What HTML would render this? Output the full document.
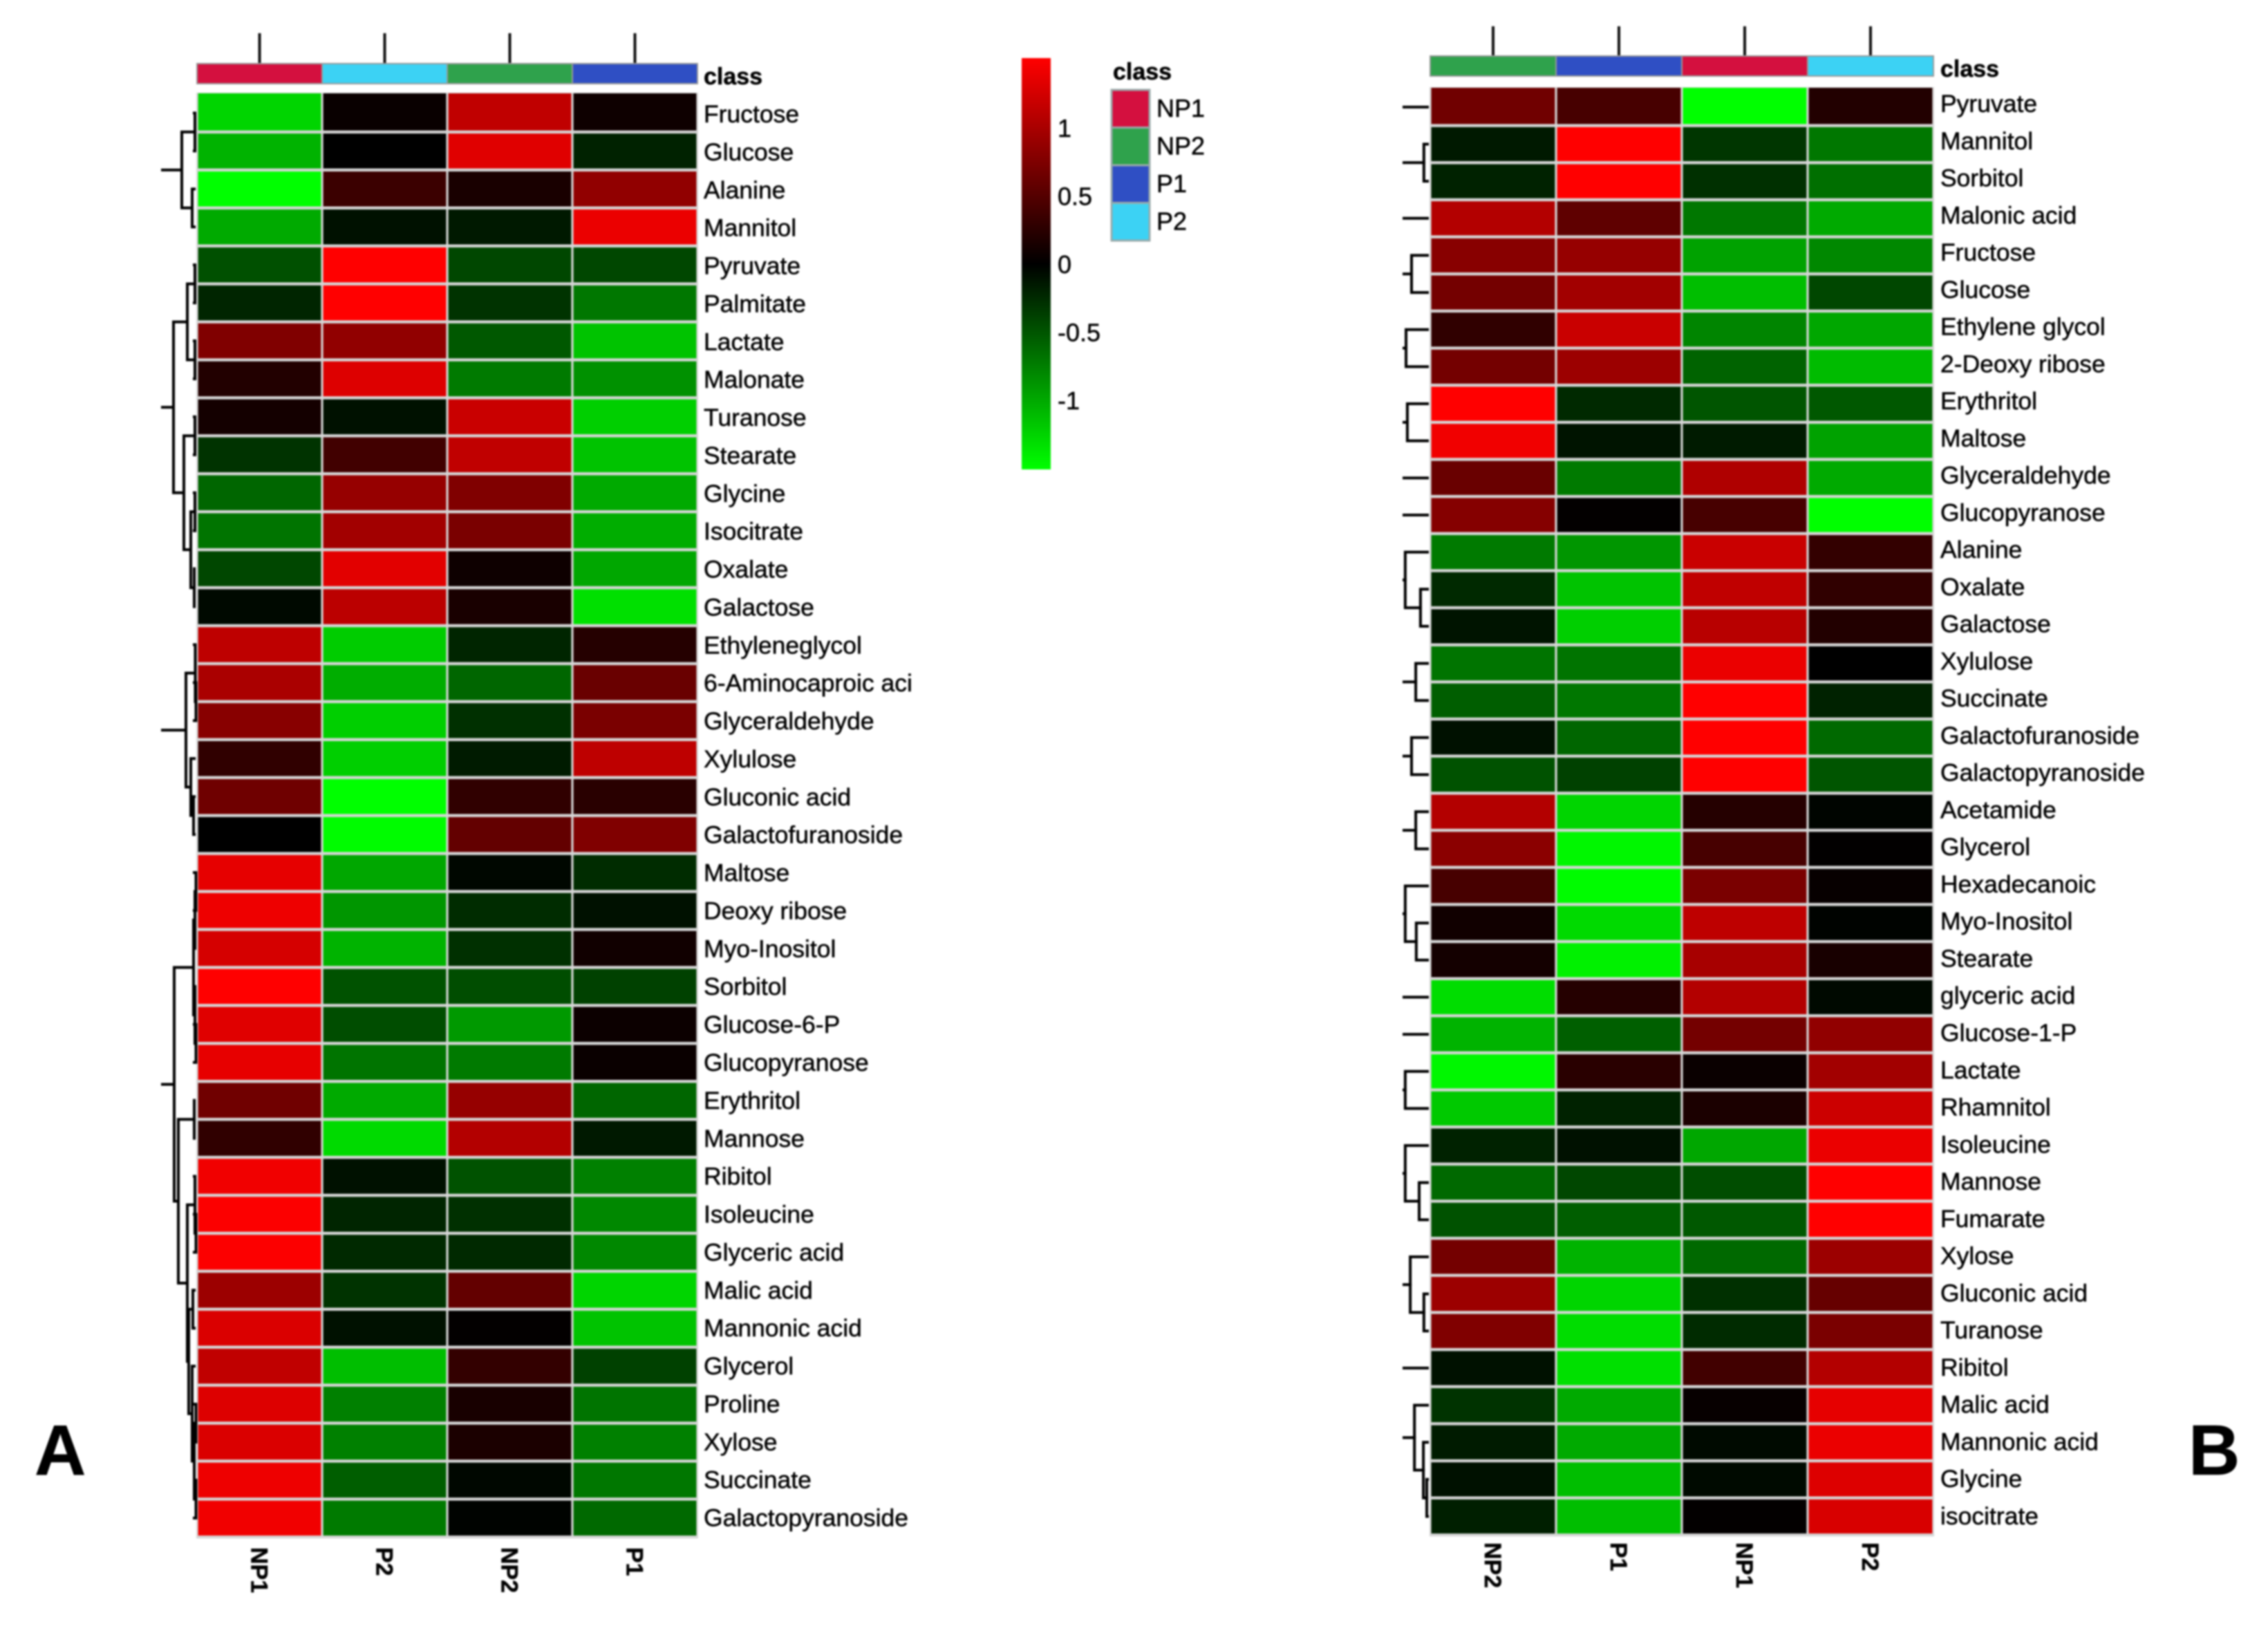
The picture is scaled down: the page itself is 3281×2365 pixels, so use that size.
<!DOCTYPE html>
<html lang="en">
<head>
<meta charset="utf-8">
<title>Metabolite heatmaps</title>
<style>
html,body{margin:0;padding:0;background:#fff;width:3281px;height:2365px;overflow:hidden}
svg{display:block;filter:blur(1.3px)}
text{font-family:"Liberation Sans",sans-serif;fill:#000;stroke:#000;stroke-width:.5px}
</style>
</head>
<body>
<svg id="chart" xmlns="http://www.w3.org/2000/svg" width="3281" height="2365" viewBox="0 0 3281 2365">
<rect width="3281" height="2365" fill="#fff"/>
<text x="50" y="2133" font-size="103" font-weight="700">A</text>
<text x="3166" y="2133" font-size="103" font-weight="700">B</text>
</svg>
<script>
/* ---------- Data: panel A ---------- */
const columnsA = ["NP1","P2","NP2","P1"];
const rowsA = ["Fructose","Glucose","Alanine","Mannitol","Pyruvate","Palmitate","Lactate","Malonate","Turanose","Stearate","Glycine","Isocitrate","Oxalate","Galactose","Ethyleneglycol","6-Aminocaproic aci","Glyceraldehyde","Xylulose","Gluconic acid","Galactofuranoside","Maltose","Deoxy ribose","Myo-Inositol","Sorbitol","Glucose-6-P","Glucopyranose","Erythritol","Mannose","Ribitol","Isoleucine","Glyceric acid","Malic acid","Mannonic acid","Glycerol","Proline","Xylose","Succinate","Galactopyranoside"];
const valuesA = [
[-1.25,0.05,1.13,0.08],[-1.05,0,1.32,-0.2],[-1.5,0.35,0.15,0.85],[-1.0,-0.1,-0.15,1.38],
[-0.47,1.5,-0.42,-0.42],[-0.22,1.5,-0.3,-0.7],[0.75,0.85,-0.52,-1.15],[0.2,1.3,-0.72,-0.85],
[0.12,-0.1,1.18,-1.22],[-0.3,0.38,1.13,-1.15],[-0.6,0.88,0.75,-1.0],[-0.68,0.95,0.72,-1.02],
[-0.42,1.33,0.08,-0.98],[-0.05,1.1,0.15,-1.32],[1.12,-1.2,-0.22,0.22],[1.0,-1.02,-0.6,0.62],
[0.8,-1.22,-0.28,0.72],[0.28,-1.22,-0.16,1.12],[0.65,-1.5,0.28,0.24],[0,-1.48,0.58,0.75],
[1.35,-0.98,-0.04,-0.26],[1.4,-0.88,-0.26,-0.1],[1.25,-1.05,-0.28,0.1],[1.5,-0.48,-0.45,-0.38],
[1.32,-0.45,-0.9,0.07],[1.36,-0.68,-0.72,0.06],[0.66,-1.0,0.88,-0.6],[0.28,-1.28,1.05,-0.15],
[1.42,-0.1,-0.48,-0.75],[1.48,-0.22,-0.28,-0.8],[1.48,-0.24,-0.24,-0.8],[0.92,-0.3,0.58,-1.25],
[1.28,-0.1,0.02,-1.15],[1.13,-1.12,0.3,-0.38],[1.3,-0.75,0.14,-0.68],[1.28,-0.75,0.16,-0.75],
[1.4,-0.55,-0.04,-0.7],[1.42,-0.72,-0.02,-0.62]
];
/* Dendrogram: [merge height, child, child]; plain numbers are row indexes */
const treeA = [
[0.44,[0.06,0,1],[0.14,2,3]],
[0.68,[0.28,[0.06,4,5],[0.06,6,7]],[0.38,[0.06,8,9],[0.18,[0.06,10,11],[0.08,12,13]]]],
[0.32,[0.05,14,[0.03,15,16]],[0.18,17,[0.1,18,19]]],
[0.66,[0.1,[0.06,[0.03,20,21],22],[0.06,23,[0.03,24,25]]],[0.54,[0.08,26,27],[0.28,[0.06,28,[0.03,29,30]],[0.24,[0.12,31,32],[0.14,33,[0.08,[0.03,34,35],[0.03,36,37]]]]]]]
];

/* ---------- Data: panel B ---------- */
const columnsB = ["NP2","P1","NP1","P2"];
const rowsB = ["Pyruvate","Mannitol","Sorbitol","Malonic acid","Fructose","Glucose","Ethylene glycol","2-Deoxy ribose","Erythritol","Maltose","Glyceraldehyde","Glucopyranose","Alanine","Oxalate","Galactose","Xylulose","Succinate","Galactofuranoside","Galactopyranoside","Acetamide","Glycerol","Hexadecanoic","Myo-Inositol","Stearate","glyceric acid","Glucose-1-P","Lactate","Rhamnitol","Isoleucine","Mannose","Fumarate","Xylose","Gluconic acid","Turanose","Ribitol","Malic acid","Mannonic acid","Glycine","isocitrate"];
const valuesB = [
[0.66,0.42,-1.5,0.2],[-0.15,1.5,-0.32,-0.7],[-0.2,1.5,-0.28,-0.65],[1.05,0.56,-0.7,-1.0],
[0.8,0.88,-0.95,-0.8],[0.68,0.95,-1.12,-0.42],[0.28,1.18,-0.78,-0.98],[0.68,0.92,-0.58,-1.1],
[1.5,-0.24,-0.5,-0.52],[1.42,-0.12,-0.16,-0.95],[0.62,-0.72,1.03,-1.0],[0.78,0.02,0.42,-1.5],
[-0.72,-0.88,1.18,0.3],[-0.24,-1.15,1.13,0.28],[-0.12,-1.22,1.08,0.2],[-0.68,-0.68,1.38,0],
[-0.55,-0.7,1.5,-0.2],[-0.1,-0.6,1.5,-0.62],[-0.48,-0.38,1.5,-0.5],[1.05,-1.25,0.22,-0.03],
[0.82,-1.45,0.42,0.01],[0.42,-1.48,0.72,0.04],[0.1,-1.28,1.12,-0.02],[0.12,-1.42,0.98,0.14],
[-1.3,0.22,1.05,-0.05],[-1.05,-0.56,0.68,0.85],[-1.45,0.24,0.06,0.95],[-1.18,-0.2,0.16,1.2],
[-0.2,-0.1,-0.98,1.38],[-0.62,-0.42,-0.45,1.5],[-0.48,-0.55,-0.52,1.5],[0.68,-1.05,-0.62,0.92],
[0.92,-1.25,-0.28,0.6],[0.75,-1.3,-0.25,0.72],[-0.1,-1.32,0.38,1.05],[-0.3,-1.0,0.04,1.35],
[-0.16,-1.0,-0.06,1.38],[-0.1,-1.12,-0.06,1.3],[-0.18,-1.12,0.02,1.27]
];
const treeB = [
0,[0.24,1,2],3,[0.71,4,5],[0.92,6,7],[0.87,8,9],10,11,
[0.95,12,[0.37,13,14]],[0.55,15,16],[0.71,17,18],[0.55,19,20],
[0.95,21,[0.53,22,23]],24,25,[0.95,26,27],[0.95,28,[0.42,29,30]],
[0.76,31,[0.24,32,33]],34,[0.6,35,[0.26,36,[0.13,37,38]]]
];

/* ---------- Data: legend and colour scale ---------- */
const legendClasses = ["NP1","NP2","P1","P2"];
const legendColors = ["#d4103f","#2fa24c","#2f4fc4","#3cd2f4"];
const colorTicks = [1,0.5,0,-0.5,-1];
const colorMax = 1.5;

/* ---------- Helpers ---------- */
const svg = document.getElementById('chart');
const NS = 'http://www.w3.org/2000/svg';
function el(tag, attrs, parent){
  const e = document.createElementNS(NS, tag);
  for (const k in attrs) e.setAttribute(k, attrs[k]);
  (parent || svg).appendChild(e);
  return e;
}
function classColor(name){
  return legendColors[legendClasses.indexOf(name)];
}
function valueColor(v){
  const t = Math.min(1, Math.abs(v) / colorMax);
  const c = Math.round(255 * t);
  return v >= 0 ? 'rgb(' + c + ',0,0)' : 'rgb(0,' + c + ',0)';
}

function drawPanel(p){
  const colW = (p.right - p.left) / p.columns.length;
  const xCol = i => p.left + i * colW;
  const yRow = i => p.top + i * p.pitch;
  const yMid = i => p.top + (i + 0.5) * p.pitch;
  const xDen = h => p.left - h * p.denScale;
  const yLabel = i => p.labelY0 + i * p.labelStep;

  const bg = el('rect', {x: p.left - 1, y: p.firstTop - 1, width: p.right - p.left + 2, height: yRow(p.rows.length) - p.firstTop + 3, fill: '#d6d6d6'});
  
  

  p.columns.forEach((name, c) => {
    const tick = el('line', {x1: xCol(c) + colW / 2, x2: xCol(c) + colW / 2, y1: p.tickTop, y2: p.barTop, stroke: '#111', 'stroke-width': 4});
    
    

    const seg = el('rect', {x: xCol(c), y: p.barTop, width: colW, height: p.barH, fill: classColor(name), stroke: '#999', 'stroke-width': 2});
    
    

    const lab = el('text', {'font-size': 34, 'font-weight': 700, transform: 'translate(' + (xCol(c) + colW / 2 - 12) + ',' + p.bottomLabelY + ') rotate(90)'});
    lab.textContent = name;
    
    
  });

  const classText = el('text', {x: p.labelX, y: p.classY, 'font-size': 34, 'font-weight': 700});
  classText.textContent = 'class';
  
  

  p.rows.forEach((name, r) => {
    p.values[r].forEach((v, c) => {
      const y0 = r === 0 ? p.firstTop : yRow(r) + 2.2;
      const y1 = yRow(r + 1) - 2.2;
      const cell = el('rect', {x: xCol(c) + 1.6, y: y0, width: colW - 3.2, height: y1 - y0, fill: valueColor(v)});
      
      
    });
    const lab = el('text', {x: p.labelX, y: yLabel(r), 'font-size': 35.5});
    lab.textContent = name;
    
    
  });

  const group = el('g', {fill: 'none', stroke: '#000', 'stroke-width': p.denStroke, 'stroke-linecap': 'square'});
  
  
  function walk(n){
    if (typeof n === 'number') return {y: yMid(n), x: p.left - p.leafGap};
    const a = walk(n[1]);
    const b = walk(n[2]);
    const x = xDen(n[0]);
    const link = el('path', {d: 'M' + a.x + ' ' + a.y + 'H' + x + 'V' + b.y + 'H' + b.x}, group);
    
    
    return {x: x, y: (a.y + b.y) / 2};
  }
  p.tree.forEach(root => {
    const top = walk(root);
    const stub = el('line', {x1: top.x, x2: xDen(1), y1: top.y, y2: top.y}, group);
    
    
  });
}

drawPanel({id:'panel-a', columns:columnsA, rows:rowsA, values:valuesA, tree:treeA,
  left:285, right:1009, top:136, firstTop:135, pitch:54.93, tickTop:48, barTop:92, barH:29,
  labelX:1018, labelY0:177, labelStep:54.88, classY:122, bottomLabelY:2238,
  denScale:50, leafGap:4, denStroke:4});

drawPanel({id:'panel-b', columns:columnsB, rows:rowsB, values:valuesB, tree:treeB,
  left:2069, right:2797, top:128, firstTop:127, pitch:53.65, tickTop:38, barTop:81, barH:29,
  labelX:2807, labelY0:162, labelStep:53.76, classY:111, bottomLabelY:2231,
  denScale:38, leafGap:4, denStroke:4});

/* ---------- Colour bar ---------- */
const defs = el('defs', {});
const grad = el('linearGradient', {id:'colorbar-gradient', x1:0, x2:0, y1:0, y2:1}, defs);
[colorMax, 0, -colorMax].forEach((v, i) => {
  el('stop', {offset: i / 2, 'stop-color': valueColor(v)}, grad);
});
const barTopY = 84, barBottomY = 679;
const yColor = v => 383 - v * 197;
const colorBar = el('rect', {x:1478, y:barTopY, width:42, height:barBottomY - barTopY, fill:'url(#colorbar-gradient)'});


colorTicks.forEach(t => {
  const lab = el('text', {x:1530, y:yColor(t) + 12, 'font-size': 36});
  lab.textContent = String(t);
  
  
});

/* ---------- Legend ---------- */
const legendTitle = el('text', {x:1610, y:115, 'font-size': 34, 'font-weight': 700});
legendTitle.textContent = 'class';


legendClasses.forEach((name, i) => {
  const swatch = el('rect', {x:1608, y:130 + i * 54.5, width:55, height:54.5, fill:legendColors[i], stroke:'#9aa', 'stroke-width':3});
  
  
  const lab = el('text', {x:1673, y:169 + i * 54.5, 'font-size': 36});
  lab.textContent = name;
  
  
});
</script>
</body>
</html>
